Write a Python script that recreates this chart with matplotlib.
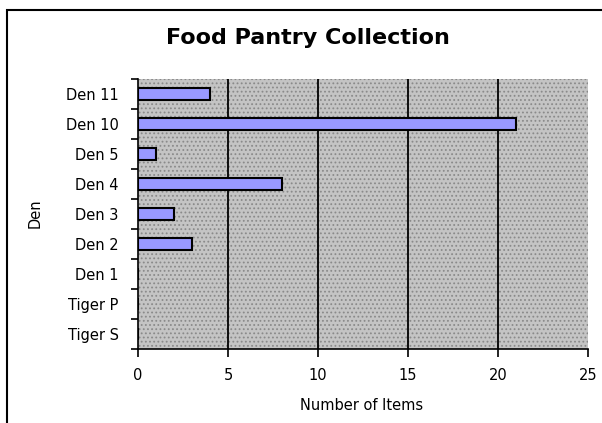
import matplotlib.pyplot as plt
from matplotlib.patches import Rectangle
import numpy as np

# data, top to bottom as shown
dens = ['Den 11', 'Den 10', 'Den 5', 'Den 4', 'Den 3', 'Den 2', 'Den 1', 'Tiger P', 'Tiger S']
items = [4, 21, 1, 8, 2, 3, 0, 0, 0]
x_ticks = [0, 5, 10, 15, 20, 25]

plt.rcParams['font.family'] = 'DejaVu Sans'
plt.rcParams['hatch.linewidth'] = 0.8

fig = plt.figure(figsize=(6.02, 4.23), dpi=100)
ax = fig.add_axes([138/602, 74/423, 450/602, 270/423])

# outer chart frame (runs off the right/bottom edge)
fig.patches.append(Rectangle((7/602, -0.1), 1.2, 1.1 - 10/423, transform=fig.transFigure,
                             fill=False, edgecolor='black', linewidth=1.5))

# stippled gray plot area
ax.add_patch(Rectangle((0, 0), 1, 1, transform=ax.transAxes, facecolor='#c4c4c4',
                       edgecolor='#8a8a8a', hatch='....', linewidth=0, zorder=0))
ax.patch.set_visible(False)

pos = np.arange(len(dens))[::-1]
ax.barh(pos, items, height=0.42, color='#9999ff', edgecolor='black', linewidth=1.5, zorder=3)

ax.set_xlim(0, 25)
ax.set_ylim(-0.5, len(dens) - 0.5)
ax.set_xticks(x_ticks)
ax.set_yticks(pos)
ax.set_yticklabels(dens)
ax.set_yticks(np.arange(len(dens) + 1) - 0.5, minor=True)
ax.tick_params(axis='y', which='major', length=0, pad=14, labelsize=10.5)
ax.tick_params(axis='y', which='minor', length=5, width=1.2)
ax.tick_params(axis='x', length=6, width=1.2, labelsize=10.5, pad=8)

for v in x_ticks[1:-1]:
    ax.axvline(v, color='black', linewidth=1.3, zorder=2)

for s in ['top', 'right']:
    ax.spines[s].set_visible(False)
for s in ['left', 'bottom']:
    ax.spines[s].set_linewidth(1.2)

fig.text(308/602, 1 - 38/423, 'Food Pantry Collection', fontsize=16, fontweight='bold',
         ha='center', va='center')
fig.text(362/602, 1 - 405/423, 'Number of Items', fontsize=10.5, ha='center', va='center')
fig.text(35/602, 1 - 213/423, 'Den', fontsize=10.5, rotation=90, ha='center', va='center')

plt.savefig('out.png', dpi=100)
